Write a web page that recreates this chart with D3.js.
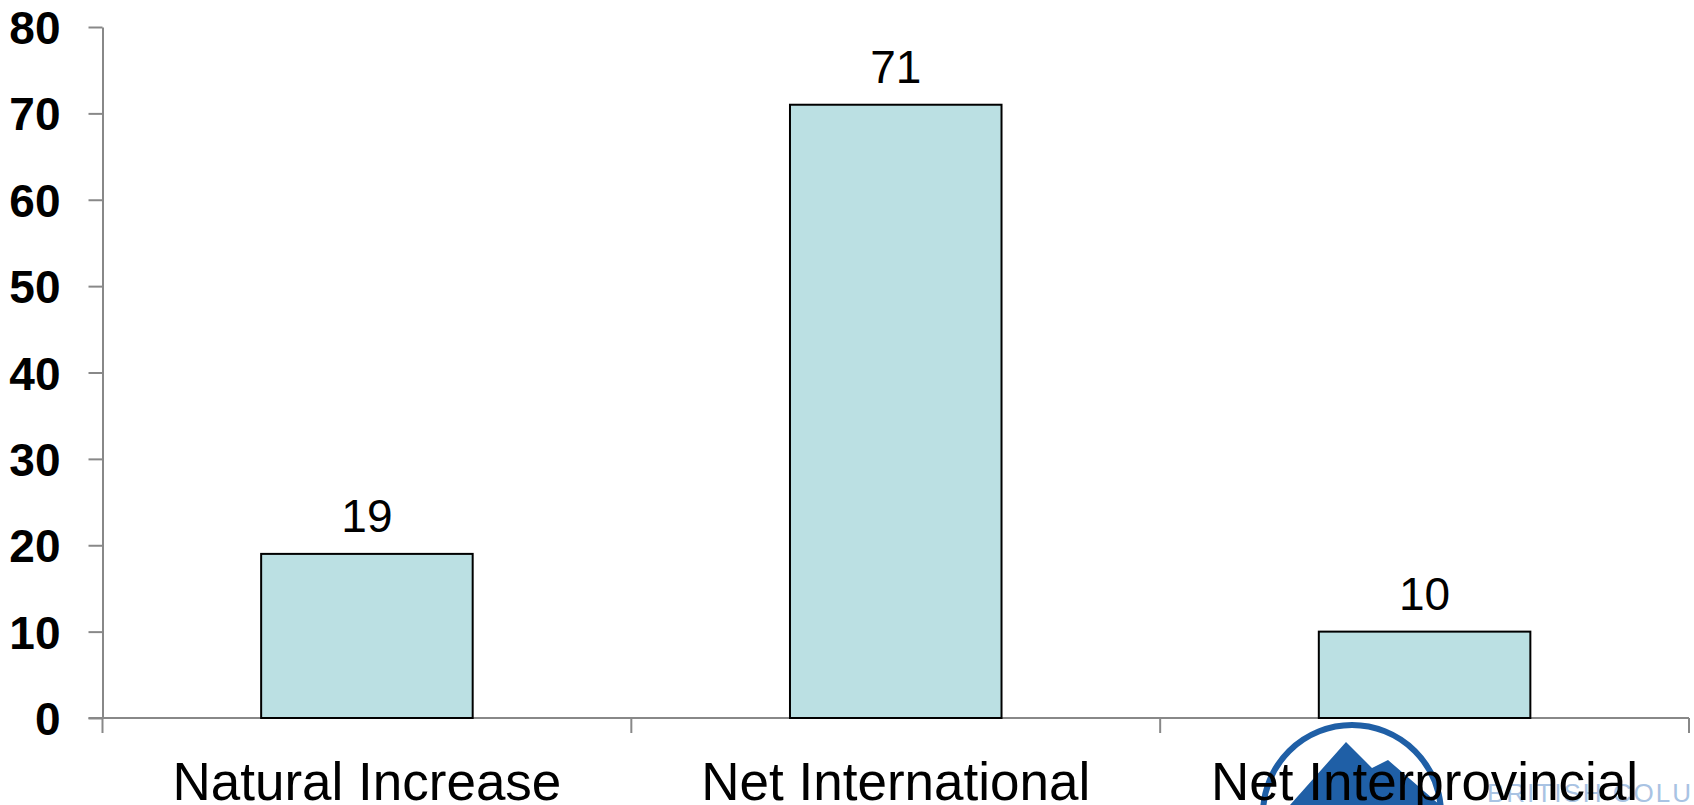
<!DOCTYPE html>
<html>
<head>
<meta charset="utf-8">
<script src="https://cdn.jsdelivr.net/npm/d3@7"></script>
<style>
  html, body { margin: 0; padding: 0; background: #fff; }
  svg { display: block; }
</style>
</head>
<body>
<svg id="chart" width="1694" height="805"></svg>
<script>
const categories = ["Natural Increase", "Net International", "Net Interprovincial"];
const values = [19, 71, 10];
const yTicks = [0, 10, 20, 30, 40, 50, 60, 70, 80];

const svg = d3.select("#chart");
const plotLeft = 102.5, plotRight = 1689, plotTop = 27, plotBottom = 718;

const x = d3.scaleBand().domain(categories).range([plotLeft, plotRight]).paddingInner(0).paddingOuter(0);
const y = d3.scaleLinear().domain([0, 80]).range([plotBottom, plotTop]);

// Logo (decorative, behind labels)
const logo = svg.append("g");
logo.append("circle").attr("cx", 1352).attr("cy", 814).attr("r", 89)
  .attr("fill", "none").attr("stroke", "#1f5fa6").attr("stroke-width", 6);
logo.append("path")
  .attr("d", "M1290,805 L1346,742 L1372,768 L1388,760 L1440,805 Z")
  .attr("fill", "#1f5fa6");
logo.append("text").attr("x", 1487).attr("y", 802)
  .attr("font-family", "Liberation Sans, Arial, sans-serif")
  .attr("font-size", 26).attr("letter-spacing", 2)
  .attr("fill", "#a9c3e3").text("BRITISH COLUMBIA");

// Y axis
const yAxis = d3.axisLeft(y).tickValues(yTicks).tickSize(14).tickPadding(28).tickSizeOuter(0);
const gy = svg.append("g").attr("transform", `translate(${plotLeft},0)`).call(yAxis);
gy.select(".domain").attr("stroke", "#888").attr("stroke-width", 2);
gy.selectAll(".tick line").attr("stroke", "#888").attr("stroke-width", 2);
gy.selectAll(".tick text")
  .attr("font-family", "Liberation Sans, Arial, sans-serif")
  .attr("font-size", 46).attr("font-weight", "bold").attr("fill", "#000")
  .attr("dy", "0.36em");

// X axis line
svg.append("line").attr("x1", plotLeft - 14).attr("x2", plotRight)
  .attr("y1", y(0)).attr("y2", y(0))
  .attr("stroke", "#888").attr("stroke-width", 2);
// X boundary ticks
const bounds = d3.range(categories.length + 1).map(i => plotLeft + i * x.step());
svg.selectAll(".xtick").data(bounds).enter().append("line")
  .attr("x1", d => d).attr("x2", d => d)
  .attr("y1", y(0)).attr("y2", y(0) + 15)
  .attr("stroke", "#888").attr("stroke-width", 2);

// Bars
const barW = x.bandwidth() * 0.4;
svg.selectAll(".bar").data(values).enter().append("rect")
  .attr("x", (d, i) => x(categories[i]) + (x.bandwidth() - barW) / 2)
  .attr("y", d => y(d))
  .attr("width", barW)
  .attr("height", d => y(0) - y(d))
  .attr("fill", "#bbe0e3").attr("stroke", "#000").attr("stroke-width", 2);

// Value labels
svg.selectAll(".val").data(values).enter().append("text")
  .attr("x", (d, i) => x(categories[i]) + x.bandwidth() / 2)
  .attr("y", d => y(d) - 22)
  .attr("text-anchor", "middle")
  .attr("font-family", "Liberation Sans, Arial, sans-serif")
  .attr("font-size", 46).attr("fill", "#000")
  .text(d => d);

// Category labels
svg.selectAll(".cat").data(categories).enter().append("text")
  .attr("x", d => x(d) + x.bandwidth() / 2)
  .attr("y", 800)
  .attr("text-anchor", "middle")
  .attr("font-family", "Liberation Sans, Arial, sans-serif")
  .attr("font-size", 53).attr("fill", "#000")
  .text(d => d);
</script>
</body>
</html>
